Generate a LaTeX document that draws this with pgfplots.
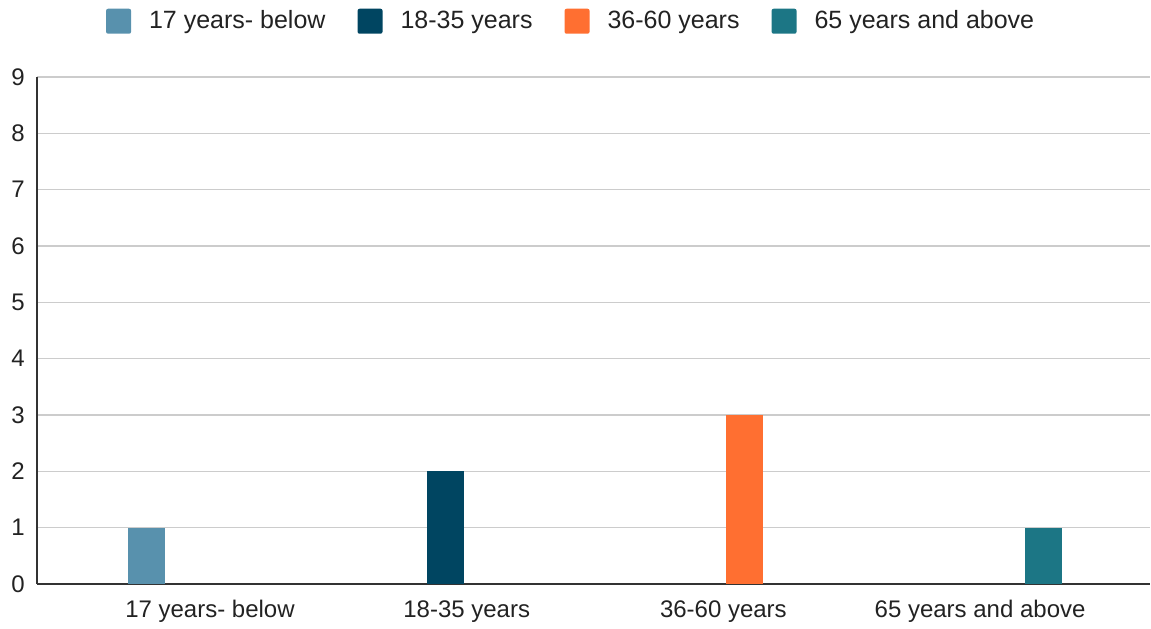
\documentclass[border=0pt]{standalone}
\usepackage{pgfplots}
\pgfplotsset{compat=1.18}
\usepackage{fontspec}
\setmainfont{Liberation Sans}
\definecolor{cA}{HTML}{5891AD}
\definecolor{cB}{HTML}{004561}
\definecolor{cC}{HTML}{FF6F31}
\definecolor{cD}{HTML}{1C7685}
\definecolor{gridc}{HTML}{CCCCCC}
\definecolor{axc}{HTML}{333333}
\definecolor{txt}{HTML}{222222}
\begin{document}
\begin{tikzpicture}
\useasboundingbox (0,0) rectangle (575.5pt,314pt);
\begin{axis}[
  at={(18.5pt,22pt)}, anchor=south west,
  width=556.5pt, height=253.5pt, scale only axis,
  xmin=-0.674, xmax=3.662,
  ymin=0, ymax=9,
  ytick={0,1,...,9},
  xtick={0,1,2,3},
  xticklabels={17 years- below,18-35 years,36-60 years,65 years and above},
  major tick length=0pt,
  axis x line*=bottom, axis y line*=left,
  axis line style={axc, line width=1pt},
  ymajorgrids, grid style={gridc, line width=0.75pt},
  /pgf/number format/assume math mode=true,
  ticklabel style={font=\fontsize{12}{14}\selectfont, text=txt, inner sep=0pt},
  yticklabel style={anchor=east, xshift=-6pt},
  xticklabel style={anchor=north, yshift=-8pt},
  ybar, bar width=0.144,
  legend columns=4,
  legend style={at={(0.479,1.110)}, anchor=center, draw=none, fill=none,
    font=\fontsize{12.5}{15}\selectfont, text=txt,
    nodes={inner sep=0pt, anchor=west},
    column sep=9pt,
    /tikz/every even column/.append style={column sep=16pt}},
  legend image code/.code={\fill[#1, rounded corners=1pt] (0pt,-6.25pt) rectangle (12.5pt,6.25pt);},
]
\addplot[fill=cA, draw=none, bar shift=-0.248] coordinates {(0,1)};
\addlegendentry{17 years- below}
\addplot[fill=cB, draw=none, bar shift=-0.083] coordinates {(1,2)};
\addlegendentry{18-35 years}
\addplot[fill=cC, draw=none, bar shift=0.083] coordinates {(2,3)};
\addlegendentry{36-60 years}
\addplot[fill=cD, draw=none, bar shift=0.248] coordinates {(3,1)};
\addlegendentry{65 years and above}
\end{axis}
\end{tikzpicture}
\end{document}
